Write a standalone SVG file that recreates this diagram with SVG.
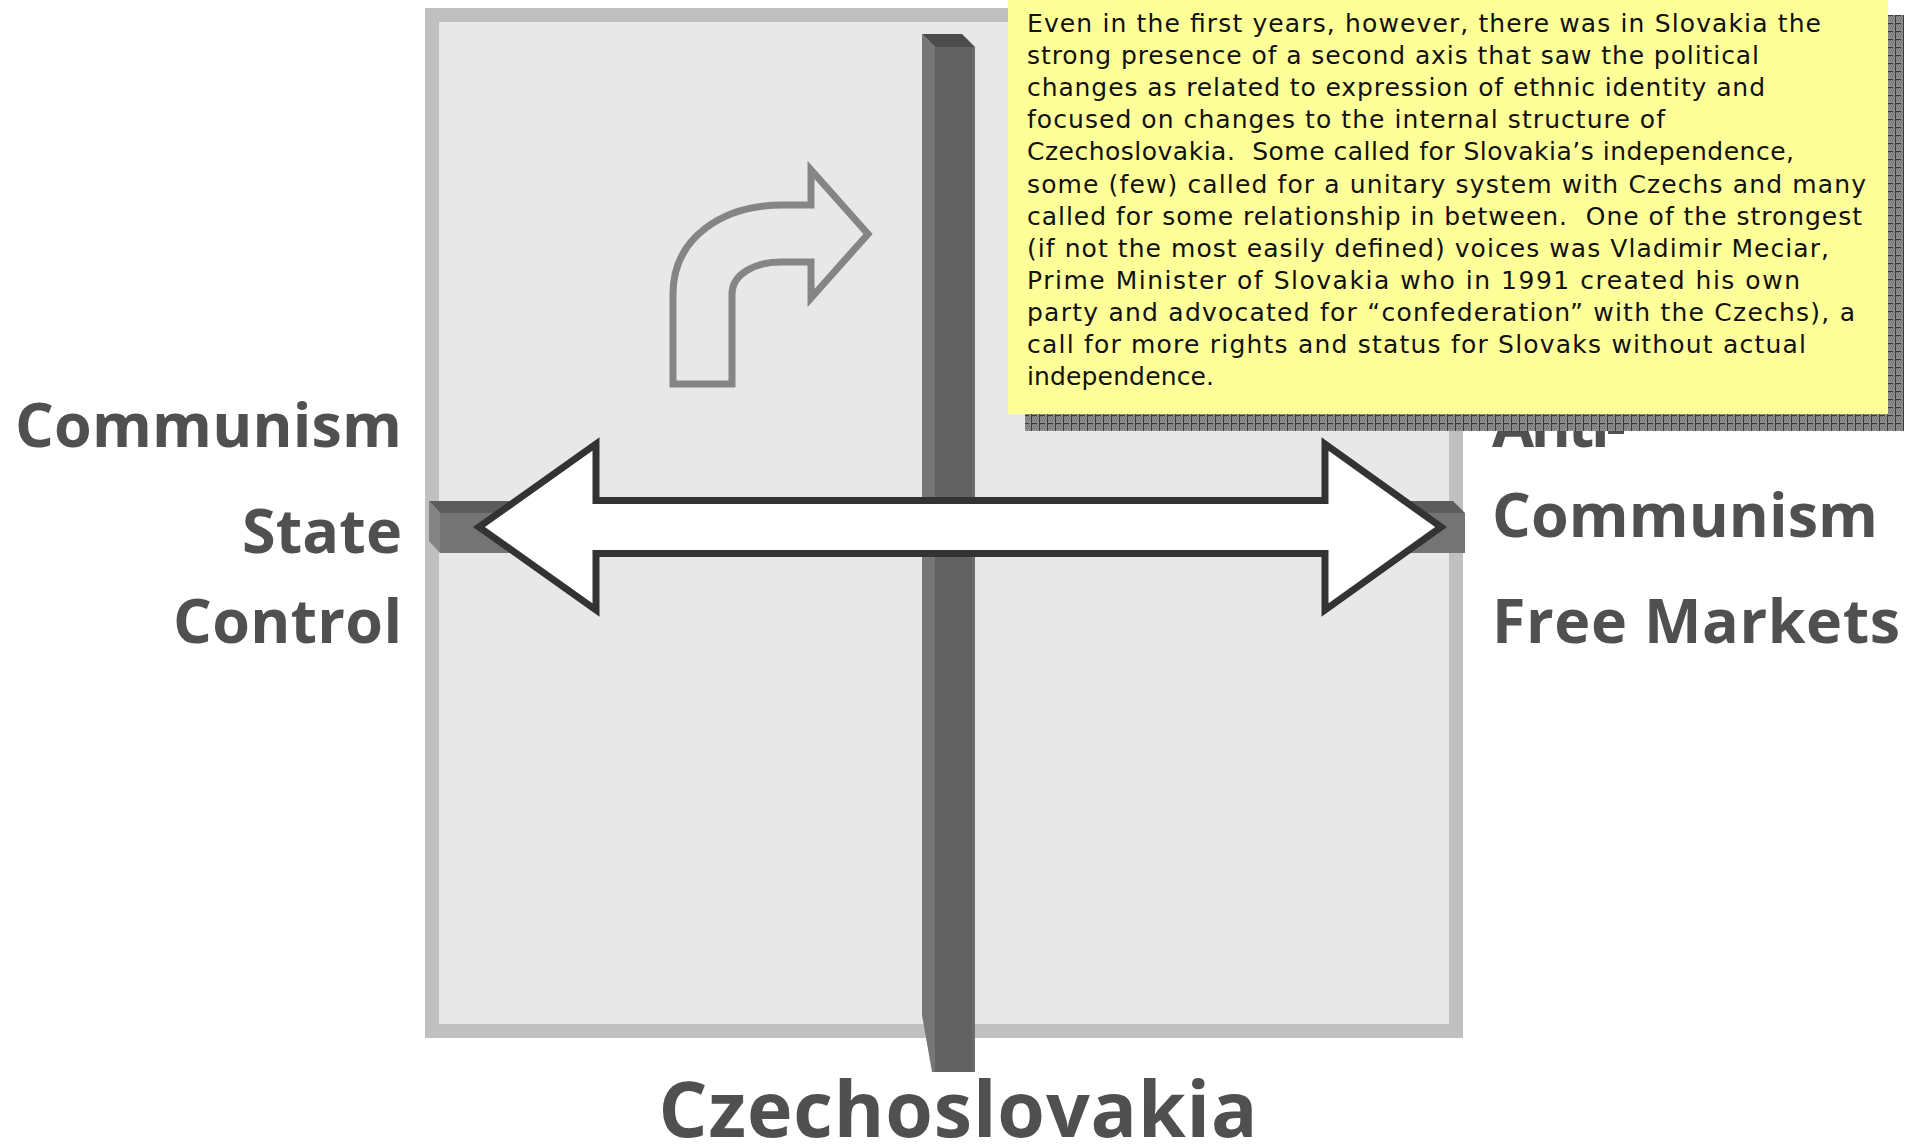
<svg xmlns="http://www.w3.org/2000/svg" width="1925" height="1147" viewBox="0 0 1925 1147">
  <defs>
    <style>
      .lbl { font-family: "Open Sans", "Liberation Sans", sans-serif; font-weight: 700; font-size: 61px; fill: #505050; }
      .big { font-size: 77px; }
      .note-text { font-family: "DejaVu Sans", "Liberation Sans", sans-serif; font-size: 25px; fill: #111111; white-space: pre; }
      .turn { fill: #e8e8e8; stroke: #858585; stroke-width: 7; stroke-linejoin: miter; }
      .dbl { fill: #ffffff; stroke: #333333; stroke-width: 7; stroke-linejoin: miter; }
    </style>
    <!-- dithered grey shadow with a fine dark grid -->
    <pattern id="shadowGrid" width="8" height="8" patternUnits="userSpaceOnUse">
      <rect width="8" height="8" fill="#8c8c8c"/>
      <rect x="0" y="0" width="1" height="1" fill="#6e6e6e"/>
      <rect x="2" y="0" width="1" height="1" fill="#6e6e6e"/>
      <rect x="4" y="0" width="1" height="1" fill="#6e6e6e"/>
      <rect x="1" y="2" width="1" height="1" fill="#6e6e6e"/>
      <rect x="3" y="2" width="1" height="1" fill="#6e6e6e"/>
      <rect x="5" y="2" width="1" height="1" fill="#6e6e6e"/>
      <rect x="0" y="4" width="1" height="1" fill="#6e6e6e"/>
      <rect x="2" y="4" width="1" height="1" fill="#6e6e6e"/>
      <rect x="4" y="4" width="1" height="1" fill="#6e6e6e"/>
      <rect x="7" y="0" width="1" height="8" fill="#3a3a3a"/>
      <rect x="0" y="7" width="5" height="1" fill="#3a3a3a"/>
    </pattern>
  </defs>

  <rect width="1925" height="1147" fill="#ffffff"/>

  <!-- quadrant frame -->
  <g id="frame">
    <rect x="432" y="15" width="1024" height="1016" fill="#e8e8e8" stroke="#c0c0c0" stroke-width="14"/>
  </g>

  <!-- vertical axis bar (3D) -->
  <g id="v-axis">
    <polygon points="922,34 935,47 935,1072 932,1072 922,1015" fill="#767676"/>
    <rect x="935" y="47" width="38" height="1025" fill="#626262"/>
    <rect x="972" y="47" width="3" height="1025" fill="#6c6c6c"/>
    <polygon points="922,34 962,34 975,47 935,47" fill="#4c4c4c"/>
  </g>

  <!-- horizontal axis bar (3D) -->
  <g id="h-axis">
    <polygon points="429,501 1453,501 1465,513 440,513" fill="#5c5c5c"/>
    <polygon points="429,501 440,513 440,553 429,541" fill="#848484"/>
    <rect x="440" y="513" width="1025" height="40" fill="#747474"/>
  </g>

  <!-- bent turn arrow -->
  <g id="turn-arrow">
    <path class="turn" d="M673,384 L673,294 C673,238 722,205 783,205 L811,205 L811,170 L868,234 L811,298 L811,262 L781,262 C755,262 732,274 732,294 L732,384 Z"/>
  </g>

  <!-- double-headed axis arrow -->
  <g id="connectors">
    <path class="dbl" d="M479,527 L596,444 L596,500.5 L1325,500.5 L1325,444 L1441,527 L1325,610 L1325,553.5 L596,553.5 L596,610 Z"/>
  </g>

  <!-- left axis labels -->
  <g id="labels-left">
    <text class="lbl" x="402" y="447" text-anchor="end" textLength="387">Communism</text>
    <text class="lbl" x="402" y="553" text-anchor="end" textLength="160">State</text>
    <text class="lbl" x="402" y="643" text-anchor="end" textLength="229">Control</text>
  </g>

  <!-- right axis labels -->
  <g id="labels-right">
    <text class="lbl" x="1492" y="447" textLength="134">Anti-</text>
    <text class="lbl" x="1492" y="537" textLength="386">Communism</text>
    <text class="lbl" x="1492" y="643" textLength="408">Free Markets</text>
  </g>

  <!-- bottom label -->
  <g id="label-bottom">
    <text class="lbl big" x="958" y="1137" text-anchor="middle" textLength="599">Czechoslovakia</text>
  </g>

  <!-- sticky note with shadow -->
  <g id="note">
    <rect x="1025" y="15" width="879" height="416" fill="url(#shadowGrid)"/>
    <rect x="1008" y="0" width="880" height="414" fill="#ffff99"/>
    <text class="note-text" x="1027" y="32" textLength="794">Even in the first years, however, there was in Slovakia the</text>
    <text class="note-text" x="1027" y="64" textLength="732">strong presence of a second axis that saw the political</text>
    <text class="note-text" x="1027" y="96" textLength="738">changes as related to expression of ethnic identity and</text>
    <text class="note-text" x="1027" y="128" textLength="638">focused on changes to the internal structure of</text>
    <text class="note-text" x="1027" y="160" textLength="767">Czechoslovakia.  Some called for Slovakia’s independence,</text>
    <text class="note-text" x="1027" y="193" textLength="839">some (few) called for a unitary system with Czechs and many</text>
    <text class="note-text" x="1027" y="225" textLength="835">called for some relationship in between.  One of the strongest</text>
    <text class="note-text" x="1027" y="257" textLength="802">(if not the most easily defined) voices was Vladimir Meciar,</text>
    <text class="note-text" x="1027" y="289" textLength="773">Prime Minister of Slovakia who in 1991 created his own</text>
    <text class="note-text" x="1027" y="321" textLength="828">party and advocated for “confederation” with the Czechs), a</text>
    <text class="note-text" x="1027" y="353" textLength="779">call for more rights and status for Slovaks without actual</text>
    <text class="note-text" x="1027" y="385" textLength="187">independence.</text>
  </g>
</svg>
